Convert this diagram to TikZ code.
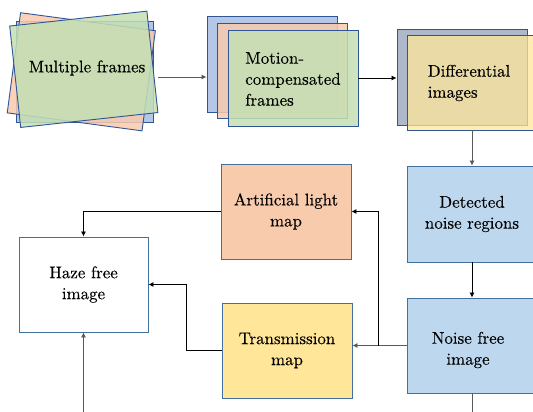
\documentclass[tikz,border=0pt]{standalone}
\usepackage{fontspec}
\newfontfamily\lmdark{lmroman10-regular.otf}[RawFeature={embolden=0.25}]
\usetikzlibrary{arrows.meta,calc}
\definecolor{bluF}{HTML}{B4C7E7}
\definecolor{bluD}{HTML}{2F5597}
\definecolor{oraF}{HTML}{F8CBAD}
\definecolor{greF}{HTML}{C5E0B4}
\definecolor{yelF}{HTML}{FFE699}
\definecolor{bgrF}{HTML}{ADB9CA}
\definecolor{ltbF}{HTML}{BDD7EE}
\definecolor{bdr}{HTML}{41719C}
\definecolor{lnA}{HTML}{595959}
\tikzset{
  frm/.style={draw=bluD, line width=0.9pt, inner sep=0pt, minimum width=130pt, minimum height=95pt},
  box/.style={draw=bdr, line width=0.9pt, inner sep=0pt, minimum width=130pt, minimum height=95pt, align=center},
  txt/.style={inner sep=0pt, align=center},
  arr/.style={-{Latex[length=5pt,width=5pt]}, line width=0.8pt, draw=lnA},
  arrk/.style={-{Latex[length=5pt,width=5pt]}, line width=0.8pt, draw=black},
  ln/.style={line width=0.8pt, draw=lnA}
}
\begin{document}
\begin{tikzpicture}[x=1pt,y=-1pt,font=\lmdark\fontsize{16.9}{21}\selectfont]
\useasboundingbox (0,0) rectangle (533,412);
\fill[white] (0,0) rectangle (533,412);
\clip (0,0) rectangle (533,412);
% Multiple frames
\node[frm, fill=bluF, minimum width=137pt, minimum height=101pt] (mfB) at (84.5,71.5) {};
\node[frm, fill=oraF, fill opacity=0.85, minimum width=136pt, minimum height=101pt, rotate=-7.6] (mfO) at (81.3,71.8) {};
\node[frm, fill=greF, fill opacity=0.85, minimum width=138pt, minimum height=102pt, rotate=6.2] (mfG) at (83.8,69.3) {};
\node[txt] (mfT) at (87,68) {Multiple frames};
% Motion-compensated frames
\node[frm, fill=bluF, minimum height=96pt] (mcB) at (272,64) {};
\node[frm, fill=oraF, fill opacity=0.85] (mcO) at (282,70.5) {};
\node[frm, fill=greF, fill opacity=0.85, minimum height=96pt] (mcG) at (293,78) {};
\node[txt, align=left] (mcT) at (293,79) {Motion-\\compensated\\frames};
% Differential images
\node[frm, fill=bgrF, minimum height=96pt] (dfB) at (462,77) {};
\node[frm, fill=yelF, fill opacity=0.75, draw opacity=1] (dfF) at (472,82.5) {};
\node[txt, align=left] (dfT) at (469,83) {Differential\\images};
% Detected noise regions
\node[box, fill=ltbF, minimum height=96pt] (det) at (472,214) {Detected\\noise regions};
% Noise free image
\node[box, fill=ltbF] (nf) at (472,345.5) {};
\node[txt] (nfT) at (468,350) {Noise free\\image};
% Artificial light map
\node[box, fill=oraF] (al) at (286,211.5) {Artificial light\\map};
% Transmission map
\node[box, fill=yelF] (tm) at (287,350.5) {Transmission\\map};
% Haze free image
\node[box, fill=white, minimum width=129pt] (hz) at (83.5,284.5) {Haze free\\image};
% connectors
\coordinate (a1) at (158,77);
\draw[arr] (a1) -- (a1 -| mcB.west);
\draw[arrk] (mcG.east) -- (mcG.east -| dfB.west);
\draw[arr] (dfF.south) -- (det.north);
\draw[arrk] (det.south) -- (nf.north);
\coordinate (nfOut) at (472,420);
\draw[ln] (nf.south) -- (nfOut);
\draw[arr] (nf.west) -- (nf.west -| tm.east);
\coordinate (br) at (378,345.5);
\draw[arrk] (br) |- (al.east);
\draw[arrk] (al.west) -| (hz.north);
\coordinate (tk) at (186,350.5);
\draw[arrk] (tm.west) -- (tk) |- (hz.east);
\coordinate (hzIn) at (83.5,420);
\draw[arr] (hzIn) -- (hz.south);
\end{tikzpicture}
\end{document}
